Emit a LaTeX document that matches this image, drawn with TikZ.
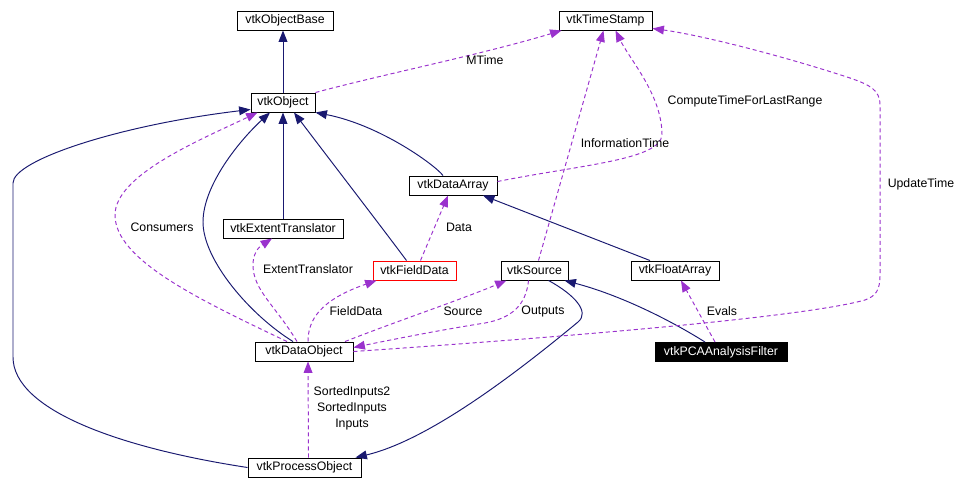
\documentclass[tikz,border=0pt]{standalone}
\usepackage{fontspec}
\setmainfont{Liberation Sans}
\usetikzlibrary{arrows.meta,calc}
\definecolor{navy}{HTML}{191970}
\definecolor{orchid}{HTML}{9A32CD}

\begin{document}
\begin{tikzpicture}[x=0.02cm,y=-0.02cm,
	cls/.style={draw, fill=white, line width=0.55pt, minimum height=0.38cm, inner sep=0pt, font=\fontsize{7}{8}\selectfont},
	inh/.style={draw=navy, line width=0.55pt, -{Triangle[length=6.5pt,width=5pt]}},
	use/.style={draw=orchid, line width=0.55pt, dash pattern=on 2.3pt off 1.7pt, -{Triangle[length=6.5pt,width=5pt]}},
	lbl/.style={font=\fontsize{7}{9}\selectfont, inner sep=0pt, align=center}]
	\useasboundingbox (0,0) rectangle (962,490);

	% classes
	\node[cls, minimum width=1.92cm] (base) at (285,20.5) {vtkObjectBase};
	\node[cls, minimum width=1.86cm] (ts) at (605.5,20.5) {vtkTimeStamp};
	\node[cls, minimum width=1.28cm] (obj) at (283,102.5) {vtkObject};
	\node[cls, minimum width=1.76cm] (da) at (453,185.5) {vtkDataArray};
	\node[cls, minimum width=2.40cm] (ext) at (283,228.5) {vtkExtentTranslator};
	\node[cls, minimum width=1.66cm, draw=red] (fd) at (414.5,270.5) {vtkFieldData};
	\node[cls, minimum width=1.34cm] (src) at (534.5,270.5) {vtkSource};
	\node[cls, minimum width=1.76cm] (fa) at (675,270.5) {vtkFloatArray};
	\node[cls, minimum width=1.96cm] (dobj) at (304,351.5) {vtkDataObject};
	\node[cls, minimum width=2.64cm, fill=black, text=white] (pca) at (721,352) {vtkPCAAnalysisFilter};
	\node[cls, minimum width=2.26cm] (proc) at (304.5,467.5) {vtkProcessObject};

	% inheritance (navy)
	\draw[inh] (obj.north) -- (obj.north |- base.south);
	\draw[inh] (ext.north) -- (obj.south);
	\draw[inh] (proc.west) .. controls (120,448) and (13,410) .. (13,357) -- (13,183)
		.. controls (13,160) and (120,125) .. ($(obj.south west)+(0,-3)$);
	\draw[inh] ($(dobj.north)+(-11,0)$) .. controls (250,315) and (203,260) .. (203,222)
		.. controls (203,185) and (240,140) .. ($(obj.south)+(-13,0)$);
	\draw[inh] ($(fd.north)+(-8,0)$) .. controls (380,225) and (330,160) .. ($(obj.south)+(11,0)$);
	\draw[inh] ($(da.north)+(-10,0)$) .. controls (435,165) and (380,125) .. (obj.south east);
	\draw[inh] ($(fa.north)+(-25,0)$) -- ($(da.south)+(30,0)$);
	\draw[inh] ($(pca.north)+(-16,0)$) .. controls (670,320) and (620,295) .. ($(src.south east)+(-4,0)$);
	\draw[inh] ($(src.south)+(14,0)$) .. controls (575,295) and (590,312) .. (578,322)
		.. controls (520,370) and (430,440) .. ($(proc.north east)+(-6,0)$);

	% usage (dashed)
	\draw[use] (obj.north east) .. controls (380,75) and (480,55) .. ($(ts.south west)+(3,0)$);
	\draw[use] ($(dobj.north)+(-17,0)$) .. controls (200,300) and (115,260) .. (115,215)
		.. controls (115,175) and (200,140) .. ($(obj.south west)+(7,0)$);
	\draw[use] ($(dobj.north)+(-7,0)$) .. controls (275,305) and (253,290) .. (253,265)
		.. controls (253,250) and (262,245) .. ($(ext.south)+(-11,0)$);
	\draw[use] ($(dobj.north)+(4,0)$) .. controls (308,320) and (320,300) .. ($(fd.south west)+(4,0)$);
	\draw[use] ($(fd.north)+(6,0)$) -- ($(da.south)+(-5,0)$);
	\draw[use] ($(dobj.north)+(41,0)$) .. controls (400,320) and (460,300) .. ($(src.south west)+(6,0)$);
	\draw[use] ($(src.south)+(-6,0)$) .. controls (526,305) and (512,318) .. (485,323)
		.. controls (440,330) and (390,340) .. ($(dobj.east)+(0,-4)$);
	\draw[use] ($(src.north)+(4,0)$) -- ($(ts.south)+(-2,0)$);
	\draw[use] ($(da.east)+(0,-4)$) .. controls (580,165) and (660,160) .. (662,135)
		.. controls (662,95) and (630,60) .. ($(ts.south)+(10,0)$);
	\draw[use] (dobj.east) .. controls (550,338) and (800,318) .. (865,300)
		.. controls (876,296) and (880,290) .. (880,275) -- (880,105)
		.. controls (880,90) and (870,85) .. (850,78)
		.. controls (780,55) and (700,35) .. ($(ts.south east)+(0,-2)$);
	\draw[use] ($(pca.north)+(-6,0)$) -- ($(fa.south)+(6,0)$);
	\draw[use] ($(proc.north)+(4,0)$) -- ($(dobj.south)+(4,0)$);

	% member names
	\node[lbl] (lMTime) at (485,60) {MTime};
	\node[lbl] (lConsumers) at (162,227) {Consumers};
	\node[lbl] (lExtent) at (308,269) {ExtentTranslator};
	\node[lbl] (lFieldData) at (356,311) {FieldData};
	\node[lbl] (lData) at (459,227) {Data};
	\node[lbl] (lSource) at (463,311) {Source};
	\node[lbl] (lOutputs) at (543,311) {Outputs};
	\node[lbl] (lInfo) at (625,143) {InformationTime};
	\node[lbl] (lCompute) at (745,101) {ComputeTimeForLastRange};
	\node[lbl] (lUpdate) at (921,184) {UpdateTime};
	\node[lbl] (lEvals) at (722,311) {Evals};
	\node[lbl] (lInputs) at (352,408) {SortedInputs2\\SortedInputs\\Inputs};
\end{tikzpicture}
\end{document}
